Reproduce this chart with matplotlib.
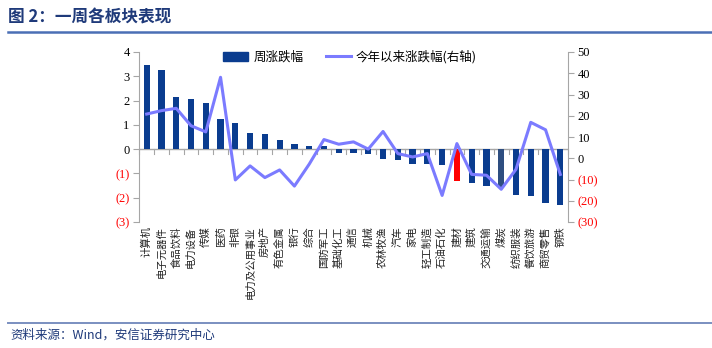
import matplotlib
matplotlib.use("Agg")
import matplotlib.pyplot as plt
import numpy as np
from matplotlib.lines import Line2D
from matplotlib.patches import Patch

plt.rcParams['font.family'] = ['Noto Sans CJK SC', 'DejaVu Sans']

categories = ["计算机", "电子元器件", "食品饮料", "电力设备", "传媒", "医药", "非银",
              "电力及公用事业", "房地产", "有色金属", "银行", "综合", "国防军工", "基础化工",
              "通信", "机械", "农林牧渔", "汽车", "家电", "轻工制造", "石油石化", "建材",
              "建筑", "交通运输", "煤炭", "纺织服装", "餐饮旅游", "商贸零售", "钢铁"]
weekly = [3.47, 3.24, 2.14, 2.08, 1.92, 1.25, 1.09, 0.65, 0.61, 0.37, 0.22, 0.15, 0.11, -0.14,
          -0.14, -0.20, -0.41, -0.44, -0.62, -0.62, -0.66, -1.32, -1.38, -1.52, -1.59, -1.90,
          -1.92, -2.21, -2.29]
ytd = [20.8, 22.4, 23.5, 15.3, 12.4, 38.1, -10.2, -3.6, -9.1, -5.5, -13.1, -2.8, 8.8, 6.6,
       7.7, 4.3, 12.6, 2.2, 0.6, 2.2, -17.5, 6.9, -7.6, -8.0, -14.6, -5.2, 16.9, 13.4, -7.6]
left_ticks = [-3, -2, -1, 0, 1, 2, 3, 4]
right_ticks = [-30, -20, -10, 0, 10, 20, 30, 40, 50]

BAR = "#0A3C8F"
LINE = "#7B7BFF"
GRID = "#A6A6A6"
NAVY = "#1F3A7A"

def acct(v):
    return f"({abs(v)})" if v < 0 else f"{v}"

fig = plt.figure(figsize=(7.12, 3.48), dpi=100)
ax = fig.add_axes([139.3 / 712, 1 - 222 / 348, 428.4 / 712, 170 / 348])
ax2 = ax.twinx()

x = np.arange(len(categories))
colors = [BAR] * len(categories)
colors[categories.index("建材")] = "#FF0000"
colors[categories.index("煤炭")] = "#2E4E80"
ax.bar(x, weekly, width=0.42, color=colors, zorder=2)
ax2.plot(x, ytd, color=LINE, lw=2.2, zorder=3)

ax.set_xlim(-0.5, len(categories) - 0.5)
ax.set_ylim(-3, 4)
ax2.set_ylim(-30, 50)

serif = "Liberation Serif"
ax.set_yticks(left_ticks)
ax.set_yticklabels([acct(v) for v in left_ticks], fontfamily=serif, fontsize=9)
for lab, v in zip(ax.get_yticklabels(), left_ticks):
    lab.set_color("#FF0000" if v < 0 else "black")
ax2.set_yticks(right_ticks)
ax2.set_yticklabels([acct(v) for v in right_ticks], fontfamily=serif, fontsize=9)
for lab, v in zip(ax2.get_yticklabels(), right_ticks):
    lab.set_color("#FF0000" if v < 0 else "black")

for a in (ax, ax2):
    a.spines['top'].set_visible(False)
    a.spines['bottom'].set_visible(False)
    a.spines['left'].set_color(GRID)
    a.spines['right'].set_color(GRID)
    a.patch.set_visible(False)
ax2.spines['left'].set_visible(False)
ax.spines['right'].set_visible(False)
ax.tick_params(axis='y', direction='out', length=4, color=GRID, pad=3)
ax2.tick_params(axis='y', direction='out', length=4, color=GRID, pad=3)

# zero line with boundary tick marks
ax.axhline(0, color=GRID, lw=1, zorder=1)
ax.set_xticks([])
for b in np.arange(-0.5, len(categories), 1.0):
    ax.plot([b, b], [0, -0.2], color=GRID, lw=0.8, zorder=1, clip_on=False)

# vertical category labels
for xi, name in zip(x, categories):
    ax.text(xi, -0.025, name, transform=ax.get_xaxis_transform(), rotation=90,
            ha='center', va='top', fontsize=7.5, color="#222222")

handles = [Patch(facecolor=BAR, edgecolor=BAR),
           Line2D([], [], color=LINE, lw=2.2)]
fig.legend(handles, ["周涨跌幅", "今年以来涨跌幅(右轴)"], loc='center',
           bbox_to_anchor=(350 / 712, 1 - 57 / 348), ncol=2, frameon=False,
           fontsize=9, handlelength=2.0, handleheight=0.7, columnspacing=1.8,
           handletextpad=0.4)

# header and footer
fig.text(8 / 712, 1 - 17 / 348, "图 2：一周各板块表现", fontsize=12, fontweight='bold',
         color=NAVY, va='center', ha='left')
fig.add_artist(Line2D([8 / 712, 1.0], [1 - 32 / 348] * 2, color="#4A6FB5", lw=1.8))
fig.add_artist(Line2D([8 / 712, 1.0], [1 - 323 / 348] * 2, color="#7A8FC0", lw=1.4))
fig.text(10 / 712, 1 - 335 / 348, "资料来源：Wind，安信证券研究中心", fontsize=9,
         style='italic', color=NAVY, va='center', ha='left')

fig.savefig("out.png", dpi=100)
